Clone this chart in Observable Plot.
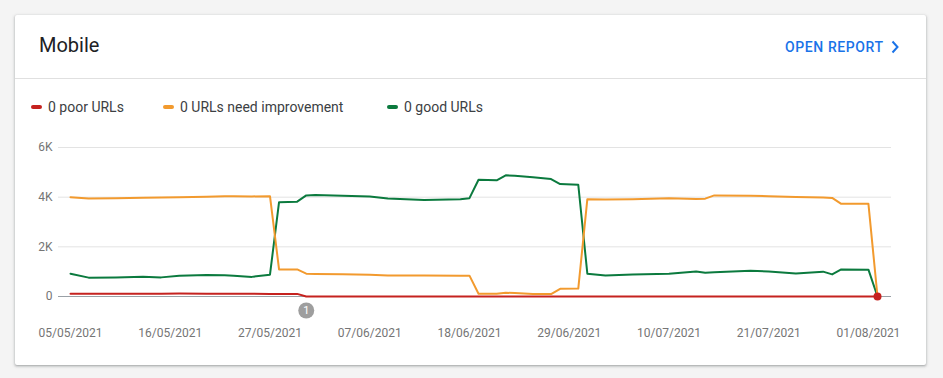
<!DOCTYPE html>
<html>
<head>
<meta charset="utf-8">
<script src="https://cdn.jsdelivr.net/npm/d3@7"></script>
<script src="https://cdn.jsdelivr.net/npm/@observablehq/plot@0.6"></script>
<style>
  html, body { margin: 0; padding: 0; }
  body { width: 943px; height: 378px; background: #f4f4f4; position: relative; overflow: hidden; font-family: Roboto, "Noto Sans", sans-serif; }
  .card { position: absolute; left: 15px; top: 15px; width: 911px; height: 350px; background: #fff; border-radius: 2px;
          box-shadow: 0 1px 2px rgba(60,64,67,.30), 0 1px 3px 1px rgba(60,64,67,.15); }
  .title { position: absolute; left: 39px; top: 32px; font-size: 20px; line-height: 26px; color: #202124; }
  .divider { position: absolute; left: 15px; width: 911px; top: 78px; height: 1px; background: #e0e0e0; }
  .open { position: absolute; left: 785px; top: 38px; font-size: 14px; line-height: 18px; font-weight: 500; letter-spacing: 0.6px; color: #1a73e8; }
  .chev { position: absolute; left: 890px; top: 40px; }
  .legend { position: absolute; top: 98px; left: 31px; font-size: 14px; line-height: 18px; color: #3c4043; }
  .item { position: absolute; white-space: nowrap; }
  .sw { position: absolute; top: 7px; width: 11px; height: 4px; border-radius: 2px; }
  .lab { position: absolute; left: 17px; top: 0; }
  #chart { position: absolute; left: 0; top: 130px; }
</style>
</head>
<body>
<div class="card"></div>
<div class="title">Mobile</div>
<div class="divider"></div>
<div class="open">OPEN REPORT</div>
<svg class="chev" width="10" height="14" viewBox="0 0 10 14"><path d="M2.5 1.5 L7.5 7 L2.5 12.5" fill="none" stroke="#1a73e8" stroke-width="2"/></svg>
<div class="legend" id="legend"></div>
<div id="chart"></div>
<script>
// ---- data ----
const seriesNames = ["0 poor URLs", "0 URLs need improvement", "0 good URLs"];
const seriesColors = ["#c5221f", "#f29a2e", "#0b7a3e"];

const dates = [
  "2021-05-05","2021-05-07","2021-05-10","2021-05-13","2021-05-15","2021-05-17","2021-05-20","2021-05-22","2021-05-23","2021-05-25",
  "2021-05-27","2021-05-28","2021-05-30","2021-05-31","2021-06-01","2021-06-04","2021-06-07","2021-06-09","2021-06-13","2021-06-17",
  "2021-06-18","2021-06-19","2021-06-21","2021-06-22","2021-06-23","2021-06-25","2021-06-27","2021-06-28","2021-06-30","2021-07-01",
  "2021-07-03","2021-07-06","2021-07-10","2021-07-13","2021-07-14","2021-07-15","2021-07-19","2021-07-21","2021-07-24","2021-07-27",
  "2021-07-28","2021-07-29","2021-08-01","2021-08-02"
];
const good = [
  920, 760, 770, 800, 770, 840, 870, 860, 840, 790,
  880, 3800, 3820, 4070, 4090, 4060, 4030, 3950, 3890, 3920,
  3960, 4700, 4680, 4880, 4860, 4800, 4730, 4530, 4500, 920,
  850, 890, 920, 1010, 960, 980, 1040, 1010, 930, 1000,
  890, 1090, 1080, 0
];
const needsImprovement = [
  4000, 3950, 3960, 3980, 3990, 4000, 4020, 4040, 4040, 4030,
  4040, 1090, 1090, 920, 910, 900, 880, 850, 850, 840,
  840, 110, 110, 150, 140, 100, 100, 310, 320, 3920,
  3910, 3920, 3960, 3930, 3940, 4070, 4060, 4040, 4010, 3990,
  3970, 3730, 3730, 0
];
const poor = [
  110, 110, 110, 115, 115, 120, 115, 110, 110, 110,
  105, 105, 105, 0, 0, 0, 0, 0, 0, 0,
  0, 0, 0, 0, 0, 0, 0, 0, 0, 0,
  0, 0, 0, 0, 0, 0, 0, 0, 0, 0,
  0, 0, 0, 0
];
const xTicks = ["2021-05-05","2021-05-16","2021-05-27","2021-06-07","2021-06-18","2021-06-29","2021-07-10","2021-07-21","2021-08-01"];
const yTicks = [0, 2000, 4000, 6000];
const annotationDate = "2021-05-31";
const annotationLabel = "1";

// ---- legend ----
const legendOffsets = [0, 132, 356];
const legend = document.getElementById("legend");
seriesNames.forEach((n, i) => {
  const it = document.createElement("div");
  it.className = "item";
  it.style.left = legendOffsets[i] + "px";
  it.innerHTML = `<span class="sw" style="background:${seriesColors[i]}"></span><span class="lab">${n}</span>`;
  legend.appendChild(it);
});

// ---- table ----
const parse = d3.utcParse("%Y-%m-%d");
const valuesBySeries = [poor, needsImprovement, good];
const rows = [];
[2, 1, 0].forEach(si => {
  dates.forEach((d, i) => rows.push({date: parse(d), value: valuesBySeries[si][i], series: seriesNames[si]}));
});
const last = dates.length - 1;

const chart = Plot.plot({
  width: 943,
  height: 230,
  marginLeft: 58,
  marginRight: 52,
  marginTop: 17,
  marginBottom: 64,
  style: {fontFamily: "Roboto, sans-serif", fontSize: "12px", color: "#757575", background: "transparent", overflow: "visible"},
  x: {type: "utc", domain: [parse(dates[0]), parse(dates[last])], insetLeft: 12, insetRight: 14},
  y: {domain: [0, 6000]},
  color: {domain: seriesNames, range: seriesColors},
  marks: [
    Plot.ruleY(yTicks.filter(t => t > 0), {stroke: "#e3e3e3", strokeWidth: 1}),
    Plot.ruleY([0], {stroke: "#9aa0a6", strokeWidth: 1}),
    Plot.axisY({ticks: yTicks, tickSize: 0, tickPadding: 6, fontSize: 12,
      tickFormat: d => d === 0 ? "0" : (d / 1000) + "K", label: null}),
    Plot.axisX({ticks: xTicks.map(parse), tickSize: 0, tickPadding: 32, fontSize: 12,
      tickFormat: d3.utcFormat("%d/%m/%Y"), label: null}),
    Plot.line(rows, {x: "date", y: "value", z: "series", stroke: "series", strokeWidth: 2, curve: "linear"}),
    Plot.dot([{date: parse(dates[last]), value: poor[last]}], {x: "date", y: "value", r: 4, fill: seriesColors[0], stroke: null}),
    Plot.dot([{date: parse(annotationDate)}], {x: "date", frameAnchor: "bottom", dy: 14, r: 8, fill: "#9e9e9e", stroke: null}),
    Plot.text([{date: parse(annotationDate), label: annotationLabel}], {x: "date", text: "label", frameAnchor: "bottom", lineAnchor: "middle", dy: 14, fill: "white", fontSize: 11})
  ]
});
document.getElementById("chart").appendChild(chart);
</script>
</body>
</html>
